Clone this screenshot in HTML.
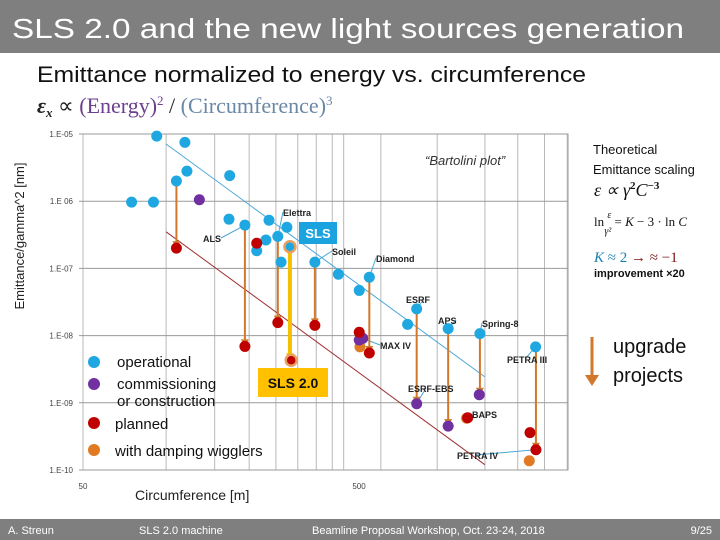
<!DOCTYPE html>
<html><head><meta charset="utf-8"><style>
html,body{margin:0;padding:0;background:#fff;}
svg{display:block;font-family:"Liberation Sans",sans-serif;}
</style></head><body>
<svg id="s" width="720" height="540" viewBox="0 0 720 540" xmlns="http://www.w3.org/2000/svg">
<rect x="0" y="0" width="720" height="53" fill="#7f7f7f"/>
<text x="12" y="38" font-size="28" fill="#fff" textLength="672" lengthAdjust="spacingAndGlyphs">SLS 2.0 and the new light sources generation</text>
<text x="37" y="82" font-size="22" fill="#111" textLength="549" lengthAdjust="spacingAndGlyphs">Emittance normalized to energy vs. circumference</text>
<text x="37" y="113" font-size="22" font-family="Liberation Serif,serif" fill="#222"><tspan font-weight="bold" font-style="italic">ε</tspan><tspan font-size="13" dy="4" font-weight="bold" font-style="italic">x</tspan><tspan dy="-4"> ∝ </tspan><tspan fill="#6d3f8f">(Energy)</tspan><tspan font-size="13" dy="-8" fill="#6d3f8f">2</tspan><tspan dy="8"> / </tspan><tspan fill="#6a88a6">(Circumference)</tspan><tspan font-size="13" dy="-8" fill="#6a88a6">3</tspan></text>
<g id="plot"></g>
<text x="425" y="165" font-size="13" font-style="italic" fill="#333">“Bartolini plot”</text>
<text transform="translate(24,236) rotate(-90)" text-anchor="middle" font-size="13" fill="#222">Emittance/gamma^2  [nm]</text>
<text x="135" y="500" font-size="14" fill="#222">Circumference  [m]</text>
<g>
<circle cx="94" cy="362" r="6" fill="#1ea7e1"/>
<text x="117" y="367" font-size="15" fill="#111">operational</text>
<circle cx="94" cy="384" r="6" fill="#7030a0"/>
<text x="117" y="389" font-size="15" fill="#111">commissioning</text>
<text x="117" y="406" font-size="15" fill="#111">or construction</text>
<circle cx="94" cy="423" r="6" fill="#c00000"/>
<text x="115" y="429" font-size="15" fill="#111">planned</text>
<circle cx="94" cy="450" r="6" fill="#e07b24"/>
<text x="115" y="456" font-size="15" fill="#111">with damping wigglers</text>
</g>
<g>
<text x="593" y="154" font-size="13" fill="#111">Theoretical</text>
<text x="593" y="174" font-size="13" fill="#111">Emittance scaling</text>
<text x="594" y="196" font-size="18" font-family="Liberation Serif,serif" font-style="italic" fill="#111">ε ∝ γ<tspan font-size="11" dy="-7" font-style="normal" font-weight="bold">2</tspan><tspan dy="7">C</tspan><tspan font-size="11" dy="-7" font-style="normal" font-weight="bold">−3</tspan></text>
<text x="594" y="226" font-size="13" font-family="Liberation Serif,serif" fill="#111">ln <tspan font-size="10" dy="-8" font-style="italic">ε</tspan><tspan font-size="10" dx="-7" dy="16" font-style="italic">γ²</tspan><tspan dy="-8"> = </tspan><tspan font-style="italic">K</tspan> − 3 · ln <tspan font-style="italic">C</tspan></text>
<text x="594" y="262" font-size="15" font-family="Liberation Serif,serif"><tspan fill="#1a7fb0" font-style="italic">K</tspan><tspan fill="#1a7fb0"> ≈ 2 </tspan><tspan fill="#7a1010">→ ≈ −1</tspan></text>
<text x="594" y="277" font-size="11" font-weight="bold" fill="#111">improvement ×20</text>
<line x1="592" y1="337" x2="592" y2="376" stroke="#d2782a" stroke-width="3"/>
<polygon points="585,375 599,375 592,386" fill="#d2782a"/>
<text x="613" y="353" font-size="20" fill="#111">upgrade</text>
<text x="613" y="382" font-size="20" fill="#111">projects</text>
</g>
<rect x="0" y="519" width="720" height="21" fill="#7f7f7f"/>
<text x="8" y="534" font-size="11" fill="#fff">A. Streun</text>
<text x="139" y="534" font-size="11" fill="#fff">SLS 2.0 machine</text>
<text x="312" y="534" font-size="11" fill="#fff">Beamline Proposal Workshop, Oct. 23-24,  2018</text>
<text x="712" y="534" font-size="11" fill="#fff" text-anchor="end">9/25</text>
</svg>
<script>
const xGrid = [50,100,150,200,250,300,350,400,440,600,960,1430,1880,2350,2840];
const yTicks = [1e-5,1e-6,1e-7,1e-8,1e-9,1e-10];
const yTickLabels = ["1.E-05","1.E 06","1.E-07","1.E-08","1.E-09","1.E-10"];
const xTickVals = [50,500];
const xTickLabels = ["50","500"];
const operational = [[92.5,9.3e-6],[117,7.5e-6],[119,2.8e-6],[109,2.0e-6],[170,2.4e-6],[75,9.7e-7],[90,9.7e-7],[169,5.4e-7],[193,4.4e-7],[236,5.2e-7],[254,3.0e-7],[274,4.1e-7],[230,2.65e-7],[213,1.83e-7],[261,1.24e-7],[346,1.24e-7],[421,8.2e-8],[501,4.7e-8],[545,7.4e-8],[809,2.5e-8],[750,1.47e-8],[1052,1.27e-8],[1371,1.07e-8],[2182,6.8e-9]];
const commissioning = [[132,1.05e-6],[501,8.6e-9],[516,9.1e-9],[1364,1.32e-9],[809,9.7e-10],[1052,4.5e-10]];
const planned = [[109,2.0e-7],[213,2.37e-7],[193,6.9e-9],[254,1.56e-8],[346,1.42e-8],[501,1.12e-8],[545,5.5e-9],[1238,6.0e-10],[2082,3.6e-10],[2188,2.0e-10]];
const damping = [[504,6.8e-9],[1227,5.9e-10],[2070,1.37e-10]];
const upgrades = [[109,2.0e-6,2.0e-7],[193,4.4e-7,6.9e-9],[254,3.0e-7,1.56e-8],[346,1.24e-7,1.42e-8],[545,7.4e-8,5.5e-9],[809,2.5e-8,9.7e-10],[1052,1.27e-8,4.5e-10],[1371,1.07e-8,1.32e-9],[2188,6.8e-9,2.0e-10]];
const slsNow = [281,2.1e-7];
const sls2 = [284,4.3e-9];
const scaleLines = [[100,1429,7.1e-6,"#4aa8d8"],[100,1429,3.5e-7,"#a03030"]];
const labels = [["Elettra",254,3.0e-7,283,216],["ALS",193,4.4e-7,203,242],["Soleil",346,1.24e-7,332,255],["Diamond",545,7.4e-8,376,262],["ESRF",809,2.5e-8,406,303],["APS",1052,1.27e-8,438,324],["Spring-8",1371,1.07e-8,482,327],["MAX IV",516,9.1e-9,380,349],["PETRA III",2182,6.8e-9,507,363],["ESRF-EBS",809,9.7e-10,408,392],["BAPS",1238,6.0e-10,472,418],["PETRA IV",2188,2.0e-10,457,459]];

const X0=83, XD=276, Y0=134, YD=67.2, XR=568, YB=470;
const xs = c => X0 + XD*Math.log10(c/50);
const ys = e => Y0 + YD*(-5 - Math.log10(e));
const NS="http://www.w3.org/2000/svg";
const g=document.getElementById('plot');
function mk(tag, attrs, parent){const el=document.createElementNS(NS,tag);for(const k in attrs)el.setAttribute(k,attrs[k]);(parent||g).appendChild(el);return el;}

let r=mk('rect',{x:X0,y:Y0,width:XR-X0,height:YB-Y0,fill:'none',stroke:'#9a9a9a'});


xGrid.forEach(v=>{const l=mk('line',{x1:xs(v),x2:xs(v),y1:Y0,y2:YB,stroke:'#b8b8b8','stroke-width':1});

});
yTicks.forEach((v,i)=>{const l=mk('line',{x1:X0-4,x2:XR,y1:ys(v),y2:ys(v),stroke:'#9a9a9a','stroke-width':1});


const t=mk('text',{x:X0-10,y:ys(v)+3,'font-size':8,'text-anchor':'end',fill:'#444'});t.textContent=yTickLabels[i];

});
xTickVals.forEach((v,i)=>{const t=mk('text',{x:xs(v),y:YB+19,'font-size':8,'text-anchor':'middle',fill:'#444'});t.textContent=xTickLabels[i];

});
scaleLines.forEach(s=>{const l=mk('line',{x1:xs(s[0]),y1:ys(s[2]),x2:xs(s[1]),y2:ys(s[2]*Math.pow(s[0]/s[1],3)),stroke:s[3],'stroke-width':1});

});
labels.forEach(a=>{const l=mk('line',{x1:xs(a[1]),y1:ys(a[2]),x2:a[3]+(a[3]<xs(a[1])?18:0),y2:a[4]-4,stroke:'#4aa8d8','stroke-width':1});

});
function arrow(c,e1,e2,col,w,name){const x=xs(c),y1=ys(e1),y2=ys(e2);
const l=mk('line',{x1:x,y1:y1,x2:x,y2:y2-5,stroke:col,'stroke-width':w});


const p=mk('polygon',{points:`${x-4},${y2-7} ${x+4},${y2-7} ${x},${y2}`,fill:col});

}
upgrades.forEach(u=>arrow(u[0],u[1],u[2],'#d2782a',2,'upgrade-arrow'));
arrow(slsNow[0],slsNow[1],sls2[1],'#f5c000',4,'sls-upgrade-arrow');
function dots(arr,col,name){arr.forEach(p=>{const c=mk('circle',{cx:xs(p[0]),cy:ys(p[1]),r:5.5,fill:col});

});}
dots(damping,'#e07b24','point-damping');
dots(operational,'#1ea7e1','point-operational');
dots(commissioning,'#7030a0','point-commissioning');
dots(planned,'#c00000','point-planned');
let c1=mk('circle',{cx:xs(slsNow[0]),cy:ys(slsNow[1]),r:5.5,fill:'#1ea7e1',stroke:'#e8a060','stroke-width':2.5});


let c2=mk('circle',{cx:xs(sls2[0]),cy:ys(sls2[1]),r:5.5,fill:'#c00000',stroke:'#e8a060','stroke-width':2.5});


labels.forEach(a=>{const t=mk('text',{x:a[3],y:a[4],'font-size':9,'font-weight':'bold',fill:'#222'});t.textContent=a[0];

});
let b1=mk('rect',{x:299,y:222,width:38,height:22,fill:'#1aa3df'});


let t1=mk('text',{x:318,y:238,'font-size':13,'font-weight':'bold',fill:'#fff','text-anchor':'middle'});t1.textContent='SLS';


let b2=mk('rect',{x:258,y:368,width:70,height:29,fill:'#ffc000'});


let t2=mk('text',{x:293,y:388,'font-size':14,'font-weight':'bold',fill:'#111','text-anchor':'middle'});t2.textContent='SLS 2.0';


</script>
</body></html>
